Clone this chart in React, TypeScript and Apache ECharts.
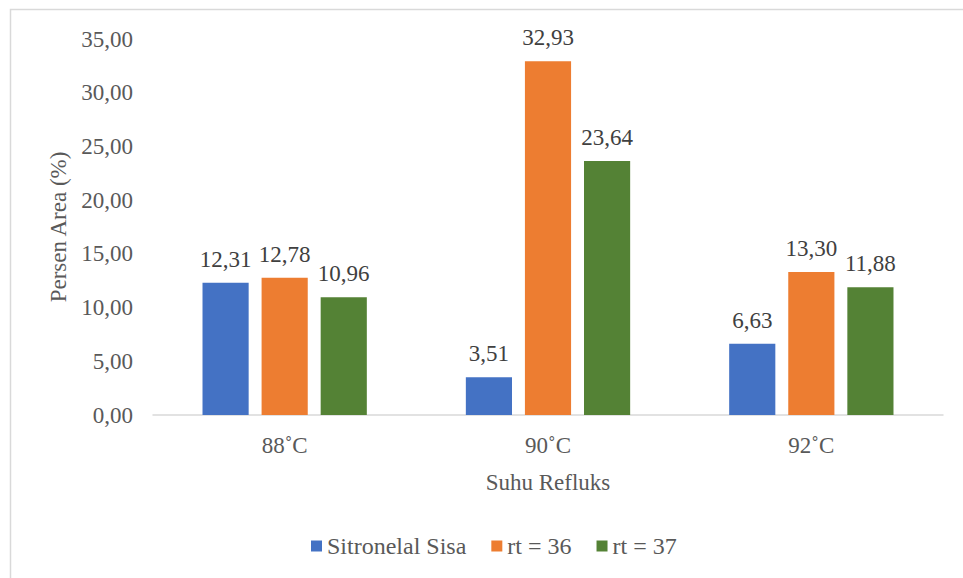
import React, { useEffect, useRef } from "react";
import * as echarts from "echarts";

const categories = ["88˚C", "90˚C", "92˚C"];
const seriesNames = ["Sitronelal Sisa", "rt = 36", "rt = 37"];
const sitronelalSisa = [12.31, 3.51, 6.63];
const rt36 = [12.78, 32.93, 13.3];
const rt37 = [10.96, 23.64, 11.88];
const colors = ["#4472C4", "#ED7D31", "#548235"];

const FONT = "Liberation Serif";
const FS = 23;
const fmt = (v: number) => v.toFixed(2).replace(".", ",");

export default function App() {
  const ref = useRef<HTMLDivElement>(null);
  useEffect(() => {
    if (!ref.current) return;
    const chart = echarts.init(ref.current, undefined, { renderer: "svg" });
    const values = [sitronelalSisa, rt36, rt37];
    chart.setOption({
      animation: false,
      backgroundColor: "#ffffff",
      textStyle: { fontFamily: FONT },
      graphic: [
        {
          type: "rect",
          shape: { x: 10.5, y: 9.5, width: 1000, height: 1000 },
          style: { fill: "none", stroke: "#d9d9d9", lineWidth: 1.5 },
          silent: true,
        },
      ],
      grid: { left: 153, right: 20, top: 39, bottom: 163, containLabel: false },
      legend: {
        bottom: 15,
        left: 306,
        itemWidth: 11,
        itemHeight: 11,
        itemGap: 25,
        icon: "rect",
        textStyle: { fontFamily: FONT, fontSize: 24, color: "#595959" },
        data: seriesNames,
      },
      xAxis: {
        type: "category",
        data: categories,
        name: "Suhu Refluks",
        nameLocation: "middle",
        nameGap: 56,
        nameTextStyle: { fontFamily: FONT, fontSize: FS, color: "#595959" },
        axisLine: { lineStyle: { color: "#d9d9d9", width: 1.5 } },
        axisTick: { show: false },
        axisLabel: { fontFamily: FONT, fontSize: FS, color: "#595959", margin: 19 },
      },
      yAxis: {
        type: "value",
        min: 0,
        max: 35,
        interval: 5,
        name: "Persen Area (%)",
        nameLocation: "middle",
        nameGap: 82,
        nameTextStyle: { fontFamily: FONT, fontSize: FS, color: "#595959" },
        axisLine: { show: false },
        axisTick: { show: false },
        splitLine: { show: false },
        axisLabel: {
          fontFamily: FONT,
          fontSize: FS,
          color: "#595959",
          margin: 20,
          formatter: (v: number) => fmt(v),
        },
      },
      series: seriesNames.map((name, i) => ({
        name,
        type: "bar",
        data: values[i],
        barGap: "28%",
        barCategoryGap: "37.6%",
        itemStyle: { color: colors[i] },
        label: {
          show: true,
          position: "top",
          distance: 12,
          fontFamily: FONT,
          fontSize: FS,
          color: "#404040",
          formatter: (p: any) => fmt(p.value),
        },
      })),
    });
    return () => chart.dispose();
  }, []);
  return (
    <div
      ref={ref}
      style={{ position: "fixed", left: 0, top: 0, width: 963, height: 578 }}
    />
  );
}
